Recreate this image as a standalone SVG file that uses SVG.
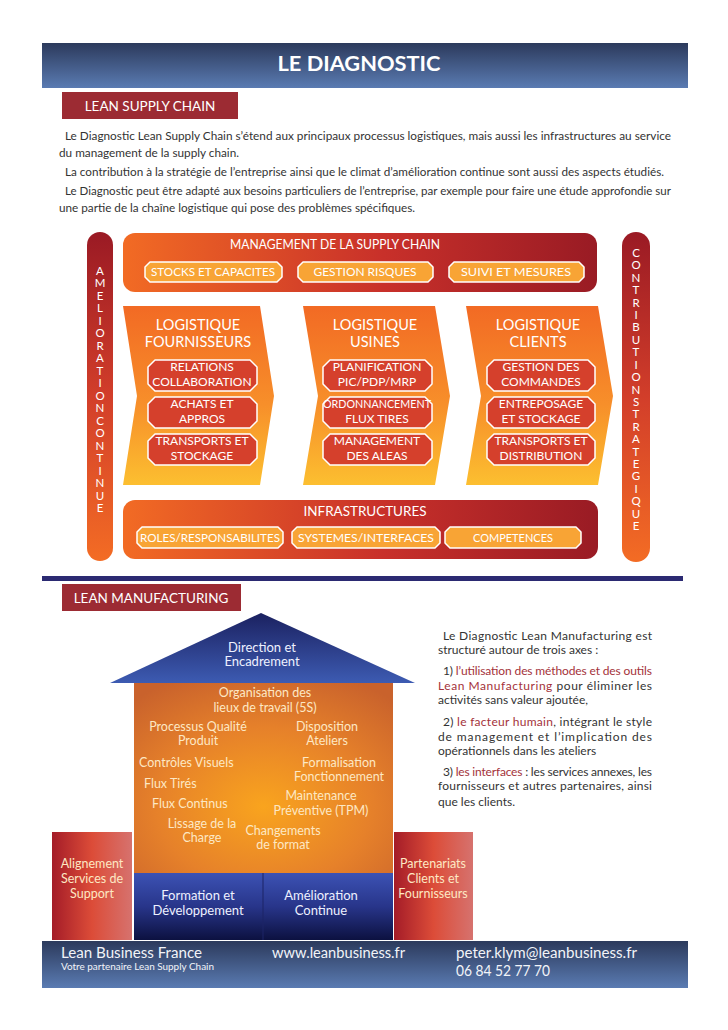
<svg xmlns="http://www.w3.org/2000/svg" width="728" height="1030" viewBox="0 0 728 1030">
<defs>
<linearGradient id="gHead" x1="0" y1="0" x2="0" y2="1"><stop offset="0" stop-color="#2c3a5c"/><stop offset="1" stop-color="#5a7bb2"/></linearGradient>
<linearGradient id="gBand" x1="0" y1="0" x2="1" y2="0"><stop offset="0" stop-color="#f26b24"/><stop offset="0.55" stop-color="#c8302a"/><stop offset="1" stop-color="#991b24"/></linearGradient>
<linearGradient id="gBar" x1="0" y1="0" x2="0" y2="1"><stop offset="0" stop-color="#9a1a24"/><stop offset="0.5" stop-color="#d23e2a"/><stop offset="1" stop-color="#f36c24"/></linearGradient>
<linearGradient id="gChev" x1="0" y1="0" x2="0" y2="1"><stop offset="0" stop-color="#f26a24"/><stop offset="0.55" stop-color="#f78f2a"/><stop offset="1" stop-color="#fcbf30"/></linearGradient>
<linearGradient id="gRoof" x1="0" y1="0" x2="0" y2="1"><stop offset="0" stop-color="#1b2160"/><stop offset="1" stop-color="#3d5bb2"/></linearGradient>
<linearGradient id="gBase" x1="0" y1="0" x2="0" y2="1"><stop offset="0" stop-color="#3c52b4"/><stop offset="0.5" stop-color="#28358a"/><stop offset="1" stop-color="#0c1140"/></linearGradient>
<radialGradient id="gBody" cx="0.5" cy="0.65" r="0.75"><stop offset="0" stop-color="#f9a41e"/><stop offset="0.55" stop-color="#e6812a"/><stop offset="1" stop-color="#c9622c"/></radialGradient>
<linearGradient id="gPillar" x1="0" y1="0" x2="1" y2="0"><stop offset="0" stop-color="#a41c28"/><stop offset="0.5" stop-color="#dc4c38"/><stop offset="1" stop-color="#d6726e"/></linearGradient>
</defs>
<style>
text{font-family:Lato,"Open Sans","Liberation Sans",sans-serif;}
.para{font-size:11.5px;fill:#333;}
.mt{font-size:12px;fill:#333;}
.w{fill:#fff;}
.c{text-anchor:middle;}
.pill{fill:#f8a435;stroke:#fff;stroke-width:1.5;stroke-linejoin:round;}
.pt{font-size:11.5px;fill:#fff;text-anchor:middle;}
.box{fill:#d5402c;stroke:#fff;stroke-width:1.5;stroke-linejoin:round;}
.bt{font-size:12px;fill:#fff;text-anchor:middle;}
.ct{font-size:14.5px;fill:#fff;text-anchor:middle;}
.vl{font-size:11.5px;fill:#fff;writing-mode:vertical-rl;text-orientation:upright;}
.ht{font-size:12.5px;fill:#fde8c4;text-anchor:middle;}
.bl{font-size:13px;fill:#eef1ff;text-anchor:middle;}
.red{fill:#a4323a;}
.ft{fill:#f2f4f8;}
</style>

<g id="header">
<rect x="42" y="43" width="646" height="45" fill="url(#gHead)"/>
<text x="359" y="71" class="w c" font-size="21" font-weight="bold" textLength="163" lengthAdjust="spacingAndGlyphs">LE DIAGNOSTIC</text>
</g>

<g id="lean-supply-chain-title">
<rect x="62" y="92" width="176" height="27" fill="#9c2b33"/>
<text x="150" y="111" class="w c" font-size="13.5">LEAN SUPPLY CHAIN</text>
</g>

<g id="intro-text" class="para">
<text x="65" y="140" textLength="606" lengthAdjust="spacingAndGlyphs">Le Diagnostic Lean Supply Chain s’étend aux principaux processus logistiques, mais aussi les infrastructures au service</text>
<text x="59" y="157" textLength="180" lengthAdjust="spacingAndGlyphs">du management de la supply chain.</text>
<text x="65" y="176" textLength="599" lengthAdjust="spacingAndGlyphs">La contribution  à la stratégie de l’entreprise ainsi que le climat d’amélioration continue sont aussi des aspects étudiés.</text>
<text x="65" y="195" textLength="606" lengthAdjust="spacingAndGlyphs">Le Diagnostic peut être adapté aux besoins particuliers de l’entreprise, par exemple pour faire une étude approfondie sur</text>
<text x="59" y="212" textLength="356" lengthAdjust="spacingAndGlyphs">une partie de la chaîne logistique qui pose des problèmes spécifiques.</text>
</g>

<g id="amelioration-continue">
<rect x="87" y="232" width="26" height="329" rx="13" fill="url(#gBar)"/>
<text class="vl" x="100" y="264" textLength="250" lengthAdjust="spacing">AMELIORATIONCONTINUE</text>
</g>

<g id="contribution-strategique">
<rect x="622" y="232" width="28" height="330" rx="14" fill="url(#gBar)"/>
<text class="vl" x="636" y="246" textLength="286" lengthAdjust="spacing">CONTRIBUTIONSTRATEGIQUE</text>
</g>

<g id="management-supply-chain">
<rect x="123" y="233" width="474" height="59" rx="12" fill="url(#gBand)"/>
<text x="335" y="249" class="w c" font-size="14" textLength="210" lengthAdjust="spacingAndGlyphs">MANAGEMENT DE LA SUPPLY CHAIN</text>
<polygon class="pill" points="150,262 277,262 282,267 282,277 277,282 150,282 145,277 145,267"/>
<text x="213" y="276" class="pt" textLength="124" lengthAdjust="spacingAndGlyphs">STOCKS ET CAPACITES</text>
<polygon class="pill" points="303,262 428,262 433,267 433,277 428,282 303,282 298,277 298,267"/>
<text x="365" y="276" class="pt" textLength="103" lengthAdjust="spacingAndGlyphs">GESTION RISQUES</text>
<polygon class="pill" points="454,262 579,262 584,267 584,277 579,282 454,282 449,277 449,267"/>
<text x="516" y="276" class="pt" textLength="110" lengthAdjust="spacingAndGlyphs">SUIVI ET MESURES</text>
</g>

<g id="logistique-fournisseurs">
<path d="M123,306 L260,306 L274,396 L260,485 L123,485 L137,396 Z" fill="url(#gChev)"/>
<text x="198" y="330" class="ct">LOGISTIQUE</text>
<text x="198" y="347" class="ct">FOURNISSEURS</text>
<polygon class="box" points="155,360 250,360 257,367 257,384 250,391 155,391 148,384 148,367"/>
<text x="202" y="371" class="bt">RELATIONS</text><text x="202" y="386" class="bt">COLLABORATION</text>
<polygon class="box" points="155,397 250,397 257,404 257,421 250,428 155,428 148,421 148,404"/>
<text x="202" y="408" class="bt">ACHATS ET</text><text x="202" y="423" class="bt">APPROS</text>
<polygon class="box" points="155,434 250,434 257,441 257,458 250,465 155,465 148,458 148,441"/>
<text x="202" y="445" class="bt">TRANSPORTS ET</text><text x="202" y="460" class="bt">STOCKAGE</text>
</g>

<g id="logistique-usines">
<path d="M303,306 L435,306 L450,396 L435,485 L303,485 L318,396 Z" fill="url(#gChev)"/>
<text x="375" y="330" class="ct">LOGISTIQUE</text>
<text x="375" y="347" class="ct">USINES</text>
<polygon class="box" points="330,360 425,360 432,367 432,384 425,391 330,391 323,384 323,367"/>
<text x="377" y="371" class="bt">PLANIFICATION</text><text x="377" y="386" class="bt">PIC/PDP/MRP</text>
<polygon class="box" points="330,397 425,397 432,404 432,421 425,428 330,428 323,421 323,404"/>
<text x="377" y="408" class="bt" font-size="11" textLength="108" lengthAdjust="spacingAndGlyphs">ORDONNANCEMENT</text><text x="377" y="423" class="bt">FLUX TIRES</text>
<polygon class="box" points="330,434 425,434 432,441 432,458 425,465 330,465 323,458 323,441"/>
<text x="377" y="445" class="bt">MANAGEMENT</text><text x="377" y="460" class="bt">DES ALEAS</text>
</g>

<g id="logistique-clients">
<path d="M466,306 L598,306 L613,396 L598,485 L466,485 L481,396 Z" fill="url(#gChev)"/>
<text x="538" y="330" class="ct">LOGISTIQUE</text>
<text x="538" y="347" class="ct">CLIENTS</text>
<polygon class="box" points="494,360 588,360 595,367 595,384 588,391 494,391 487,384 487,367"/>
<text x="541" y="371" class="bt">GESTION DES</text><text x="541" y="386" class="bt">COMMANDES</text>
<polygon class="box" points="494,397 588,397 595,404 595,421 588,428 494,428 487,421 487,404"/>
<text x="541" y="408" class="bt">ENTREPOSAGE</text><text x="541" y="423" class="bt">ET STOCKAGE</text>
<polygon class="box" points="494,434 588,434 595,441 595,458 588,465 494,465 487,458 487,441"/>
<text x="541" y="445" class="bt">TRANSPORTS ET</text><text x="541" y="460" class="bt">DISTRIBUTION</text>
</g>

<g id="infrastructures">
<rect x="123" y="500" width="475" height="59" rx="12" fill="url(#gBand)"/>
<text x="365" y="516" class="w c" font-size="14" textLength="123" lengthAdjust="spacingAndGlyphs">INFRASTRUCTURES</text>
<polygon class="pill" points="142,527 278,527 283,532 283,543 278,548 142,548 137,543 137,532"/>
<text x="210" y="542" class="pt" textLength="140" lengthAdjust="spacingAndGlyphs">ROLES/RESPONSABILITES</text>
<polygon class="pill" points="297,527 435,527 440,532 440,543 435,548 297,548 292,543 292,532"/>
<text x="366" y="542" class="pt" textLength="136" lengthAdjust="spacingAndGlyphs">SYSTEMES/INTERFACES</text>
<polygon class="pill" points="450,527 576,527 581,532 581,543 576,548 450,548 445,543 445,532"/>
<text x="513" y="542" class="pt" textLength="80" lengthAdjust="spacingAndGlyphs">COMPETENCES</text>
</g>

<g id="divider">
<rect x="42" y="576" width="641" height="5" fill="#2b2a72"/>
</g>

<g id="lean-manufacturing-title">
<rect x="62" y="584" width="179" height="27" fill="#9c2b33"/>
<text x="151" y="603" class="w c" font-size="13.5">LEAN MANUFACTURING</text>
</g>

<g id="pillar-left">
<rect x="52" y="832" width="80" height="108" fill="url(#gPillar)"/>
<text class="ht"><tspan x="92" y="868">Alignement</tspan><tspan x="92" y="883">Services de</tspan><tspan x="92" y="898">Support</tspan></text>
</g>

<g id="pillar-right">
<rect x="394" y="832" width="79" height="108" fill="url(#gPillar)"/>
<text class="ht"><tspan x="433" y="868">Partenariats</tspan><tspan x="433" y="883">Clients et</tspan><tspan x="433" y="898">Fournisseurs</tspan></text>
</g>

<g id="house-body">
<rect x="134" y="683" width="259" height="190" fill="url(#gBody)"/>
<text class="ht"><tspan x="265" y="697">Organisation des</tspan><tspan x="265" y="712">lieux de travail (5S)</tspan></text>
<text class="ht"><tspan x="198" y="731">Processus Qualité</tspan><tspan x="198" y="745">Produit</tspan></text>
<text class="ht"><tspan x="327" y="731">Disposition</tspan><tspan x="327" y="745">Ateliers</tspan></text>
<text class="ht" style="text-anchor:start"><tspan x="139" y="767">Contrôles Visuels</tspan></text>
<text class="ht"><tspan x="339" y="767">Formalisation</tspan><tspan x="339" y="781">Fonctionnement</tspan></text>
<text class="ht" style="text-anchor:start"><tspan x="144" y="788">Flux Tirés</tspan></text>
<text class="ht"><tspan x="321" y="800">Maintenance</tspan><tspan x="321" y="815">Préventive (TPM)</tspan></text>
<text class="ht" style="text-anchor:start"><tspan x="152" y="808">Flux Continus</tspan></text>
<text class="ht"><tspan x="202" y="828">Lissage de la</tspan><tspan x="202" y="842">Charge</tspan></text>
<text class="ht"><tspan x="283" y="835">Changements</tspan><tspan x="283" y="849">de format</tspan></text>
</g>

<g id="house-roof">
<polygon points="261,613 415,683 110,683" fill="url(#gRoof)"/>
<text class="bl"><tspan x="262" y="652">Direction et</tspan><tspan x="262" y="666">Encadrement</tspan></text>
</g>

<g id="house-base">
<rect x="134" y="873" width="259" height="67" fill="url(#gBase)"/>
<line x1="263" y1="873" x2="263" y2="940" stroke="#1c2466" stroke-width="1"/>
<text class="bl"><tspan x="198" y="900">Formation et</tspan><tspan x="198" y="915">Développement</tspan></text>
<text class="bl"><tspan x="321" y="900">Amélioration</tspan><tspan x="321" y="915">Continue</tspan></text>
</g>

<g id="manufacturing-text" class="mt">
<text x="443" y="640" textLength="209" lengthAdjust="spacing">Le Diagnostic Lean Manufacturing est</text>
<text x="438" y="654">structuré autour de trois axes :</text>
<text x="443" y="675" textLength="209" lengthAdjust="spacing">1) <tspan class="red">l’utilisation des méthodes et des outils</tspan></text>
<text x="438" y="690" textLength="214" lengthAdjust="spacing"><tspan class="red">Lean Manufacturing</tspan> pour éliminer les</text>
<text x="438" y="704">activités sans valeur ajoutée,</text>
<text x="443" y="726" textLength="209" lengthAdjust="spacing">2) <tspan class="red">le facteur humain</tspan>, intégrant le style</text>
<text x="438" y="741" textLength="214" lengthAdjust="spacing">de management et l’implication des</text>
<text x="438" y="755">opérationnels dans les ateliers</text>
<text x="443" y="776" textLength="209" lengthAdjust="spacing">3) <tspan class="red">les interfaces</tspan> : les services annexes, les</text>
<text x="438" y="790" textLength="214" lengthAdjust="spacing">fournisseurs et autres partenaires, ainsi</text>
<text x="438" y="806">que les clients.</text>
</g>

<g id="footer">
<rect x="42" y="941" width="646" height="47" fill="url(#gHead)"/>
<text x="61" y="958" class="ft" font-size="14.5" textLength="141" lengthAdjust="spacingAndGlyphs">Lean Business France</text>
<text x="61" y="970" class="ft" font-size="8.5" textLength="153" lengthAdjust="spacingAndGlyphs">Votre partenaire Lean Supply Chain</text>
<text x="272" y="958" class="ft" font-size="14.5" textLength="133" lengthAdjust="spacingAndGlyphs">www.leanbusiness.fr</text>
<text x="456" y="958" class="ft" font-size="14.5" textLength="181" lengthAdjust="spacingAndGlyphs">peter.klym@leanbusiness.fr</text>
<text x="456" y="976" class="ft" font-size="14.5" textLength="94" lengthAdjust="spacingAndGlyphs">06 84 52 77 70</text>
</g>
</svg>
